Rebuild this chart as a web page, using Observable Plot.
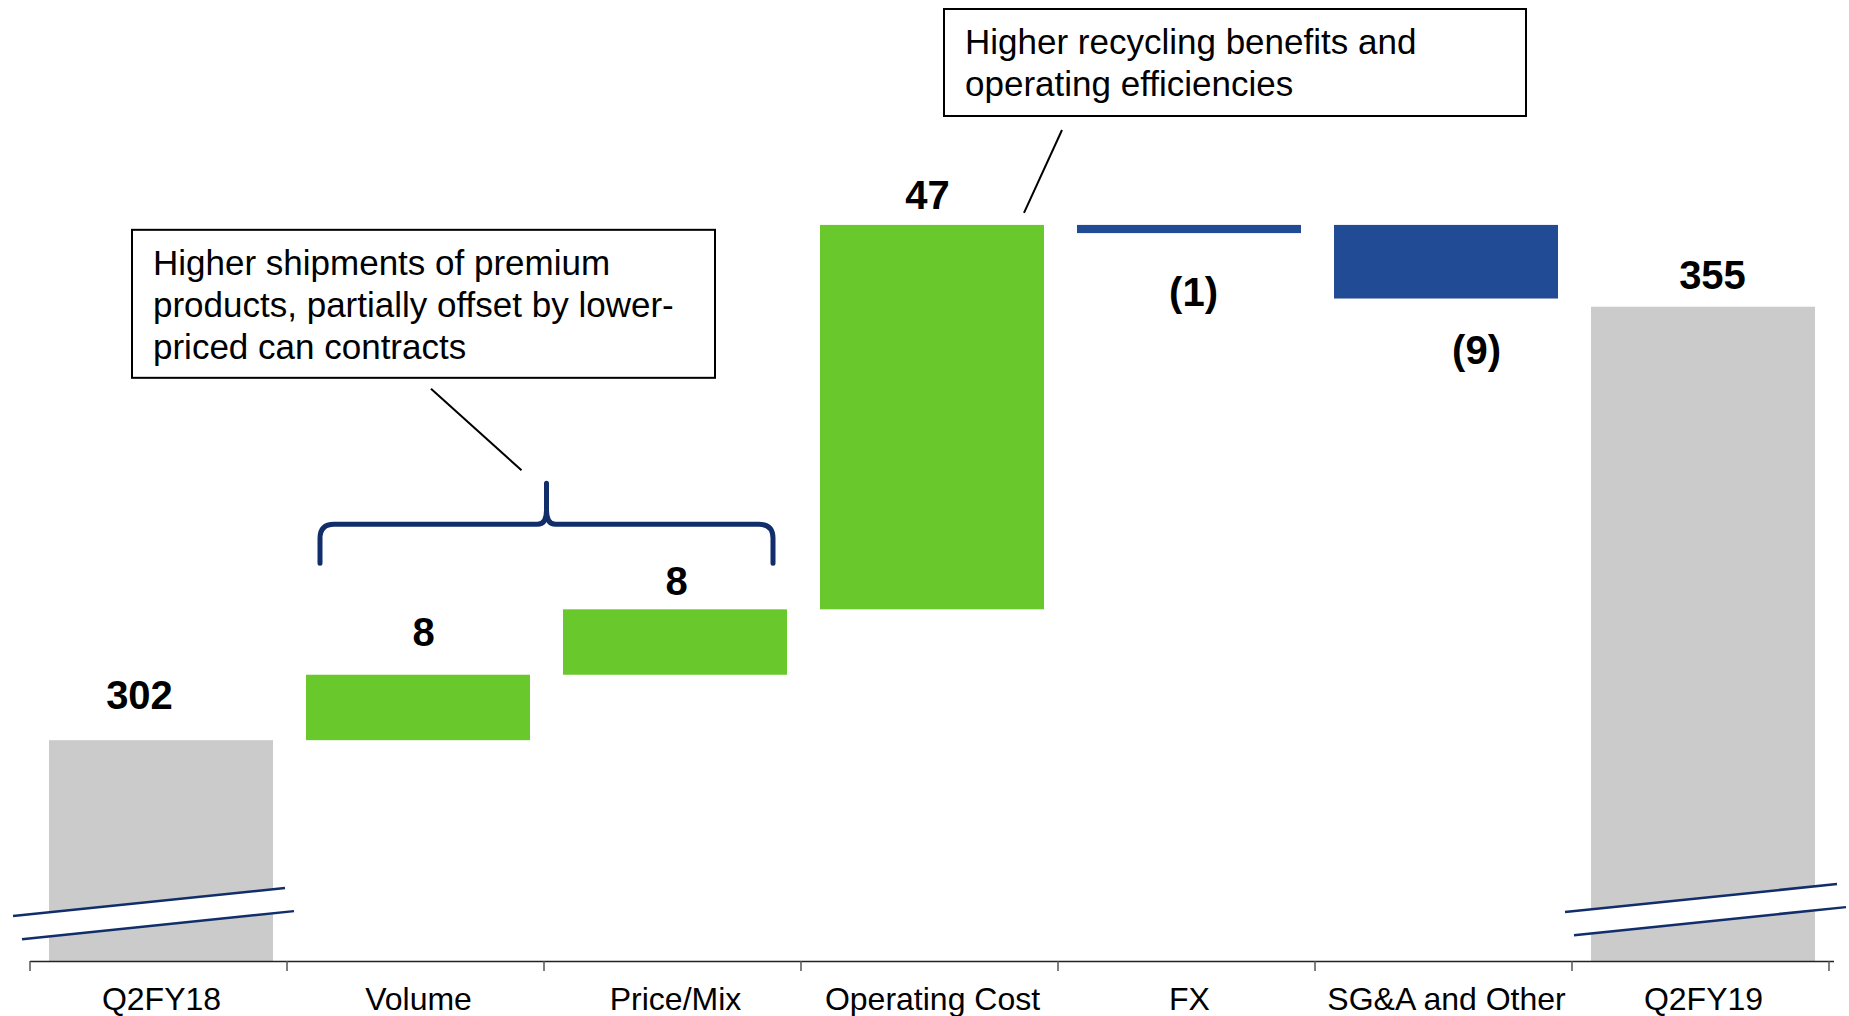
<!DOCTYPE html>
<html><head><meta charset="utf-8">
<script src="https://cdn.jsdelivr.net/npm/d3@7"></script>
<script src="https://cdn.jsdelivr.net/npm/@observablehq/plot@0.6"></script>
<style>
  html,body{margin:0;padding:0;background:#fff;}
  #chart svg{display:block;}
</style>
</head><body><div id="chart"></div>
<script>
// ---------- data ----------
const categories = ["Q2FY18", "Volume", "Price/Mix", "Operating Cost", "FX", "SG&A and Other", "Q2FY19"];
const changes    = [302, 8, 8, 47, -1, -9, 355];
const kinds      = ["total", "delta", "delta", "delta", "delta", "delta", "total"];
const valueLabels = ["302", "8", "8", "47", "(1)", "(9)", "355"];
const yDomain = [275, 392.5];            // broken axis: bottom of the plot is 275
const breakLevel = 281;                  // where the axis-break marks sit
const braceLevel = 328.4;                // level of the curly brace over Volume + Price/Mix
const note1Lines = ["Higher shipments of premium", "products, partially offset by lower-", "priced can contracts"];
const note2Lines = ["Higher recycling benefits and", "operating efficiencies"];

// ---------- styles ----------
const GREY = "#cbcbcb", GREEN = "#69c92c", BLUE = "#224b95", NAVY = "#112e6b";
const FONT = "'Liberation Sans', Arial, Helvetica, sans-serif";
// per-label pixel nudges [dx, dy] (label placement as on the slide)
const labelNudges = [[-22, -44], [5, -42], [1, -28], [-5, -29], [4, 60], [30, 52], [9, -31]];
const breakNudges = {"Q2FY18": [-1, 1], "Q2FY19": [9, -3]};

// ---------- waterfall rows ----------
// As on the slide, the negative steps hang from the peak reached by the positive steps.
let running = 0, peak = 0;
const rows = categories.map((c, i) => {
  let y1, y2;
  if (kinds[i] === "total") { y1 = 0; y2 = changes[i]; running = changes[i]; peak = running; }
  else if (changes[i] >= 0) { y1 = running; y2 = running + changes[i]; running = y2; peak = Math.max(peak, running); }
  else { y1 = peak; y2 = peak + changes[i]; running += changes[i]; }
  const fill = kinds[i] === "total" ? GREY : (changes[i] >= 0 ? GREEN : BLUE);
  return {category: c, y1, y2, top: Math.max(y1, y2), bottom: Math.min(y1, y2),
          value: changes[i], label: valueLabels[i], kind: kinds[i], fill};
});

// ---------- custom decorations (breaks, ticks, brace, notes) ----------
function decorations(index, scales) {
  const sx = scales.x, sy = scales.y;
  const bw = typeof sx.bandwidth === "function" ? sx.bandwidth() : sx.bandwidth;
  const step = typeof sx.step === "function" ? sx.step() : bw / (1 - 0.127);
  const r0 = sx.range()[0];
  const cx = c => sx(c) + bw / 2;
  const g = d3.create("svg:g");

  // tick marks at band edges
  const yAxis = sy(yDomain[0]);
  for (let i = 0; i <= categories.length; i++) {
    const x = r0 + i * step;
    g.append("line").attr("x1", x).attr("x2", x).attr("y1", yAxis).attr("y2", yAxis + 10)
      .attr("stroke", "#555").attr("stroke-width", 1.5);
  }

  // axis-break marks on the total bars
  const slope = -0.103, half = 12;
  for (const r of rows.filter(d => d.kind === "total")) {
    const [nx, ny] = breakNudges[r.category] || [0, 0];
    const x0 = cx(r.category) + nx, y0 = sy(breakLevel) + ny;
    const l1 = [[-147, -half], [125, -half]], l2 = [[-138, half], [134, half]];
    const P = ([dx, dy]) => [x0 + dx, y0 + dy + slope * dx];
    const a = P(l1[0]), b = P(l1[1]), c = P(l2[1]), d = P(l2[0]);
    g.append("polygon").attr("points", [a, b, c, d].map(p => p.join(",")).join(" ")).attr("fill", "#fff");
    g.append("line").attr("x1", a[0]).attr("y1", a[1]).attr("x2", b[0]).attr("y2", b[1])
      .attr("stroke", NAVY).attr("stroke-width", 2.5);
    g.append("line").attr("x1", d[0]).attr("y1", d[1]).attr("x2", c[0]).attr("y2", c[1])
      .attr("stroke", NAVY).attr("stroke-width", 2.5);
  }

  // curly brace over Volume + Price/Mix
  const L = cx("Volume") - 98, R = cx("Price/Mix") + 98, M = (L + R) / 2, yH = sy(braceLevel);
  g.append("path")
    .attr("d", `M${L},${yH + 39} L${L},${yH + 14} Q${L},${yH} ${L + 14},${yH} L${M - 9},${yH} Q${M},${yH} ${M},${yH - 14} L${M},${yH - 41}
                M${M},${yH - 14} Q${M},${yH} ${M + 9},${yH} L${R - 14},${yH} Q${R},${yH} ${R},${yH + 14} L${R},${yH + 39}`)
    .attr("fill", "none").attr("stroke", NAVY).attr("stroke-width", 5)
    .attr("stroke-linecap", "round").attr("stroke-linejoin", "round");

  // note boxes
  function note(lines, anchorCat, topValue, dx, w, h) {
    const left = cx(anchorCat) + dx, top = sy(topValue);
    g.append("rect").attr("x", left).attr("y", top).attr("width", w).attr("height", h)
      .attr("fill", "#fff").attr("stroke", "#000").attr("stroke-width", 2);
    const t = g.append("text").attr("font-family", FONT).attr("font-size", 35)
      .attr("text-anchor", "start").attr("fill", "#000");
    lines.forEach((s, i) => t.append("tspan").attr("x", left + 21).attr("y", top + 45 + i * 42.3).text(s));
    return {left, top, w, h, bottom: top + h};
  }
  const n1 = note(note1Lines, "Volume", 364.4, -286, 583, 148);
  const n2 = note(note2Lines, "FX", 391.4, -245, 582, 107);

  // leader lines
  g.append("line").attr("x1", n1.left + 299).attr("y1", n1.bottom + 11)
    .attr("x2", M - 25).attr("y2", yH - 54).attr("stroke", "#000").attr("stroke-width", 2);
  const opc = rows.find(d => d.category === "Operating Cost");
  g.append("line").attr("x1", n2.left + 118).attr("y1", n2.bottom + 14)
    .attr("x2", sx("Operating Cost") + bw - 20).attr("y2", sy(opc.top) - 12)
    .attr("stroke", "#000").attr("stroke-width", 2);
  return g.node();
}

// ---------- plot ----------
const labelMarks = rows.map((r, i) => Plot.text([r], {
  x: "category",
  y: r.value >= 0 || r.kind === "total" ? "top" : "bottom",
  text: "label",
  dx: labelNudges[i][0], dy: labelNudges[i][1],
  lineAnchor: "middle",
  fontSize: 40, fontWeight: "bold", fill: "#000"
}));

const chart = Plot.plot({
  width: 1849, height: 1016,
  marginLeft: 30, marginRight: 15, marginTop: 0, marginBottom: 55,
  style: {fontFamily: FONT, background: "#fff", color: "#000", fontSize: "32px", overflow: "visible"},
  x: {domain: categories, paddingInner: 0.127, paddingOuter: 0.0635, label: null},
  y: {domain: yDomain, clamp: true, axis: null},
  color: {type: "identity"},
  marks: [
    Plot.barY(rows, {x: "category", y1: "y1", y2: "y2", fill: "fill"}),
    Plot.ruleY([yDomain[0]], {stroke: "#222", strokeWidth: 1.5}),
    Plot.axisX({tickSize: 0, tickPadding: 26, fontSize: 32, fill: "#000"}),
    ...labelMarks,
    decorations
  ]
});
document.getElementById("chart").appendChild(chart);
</script>
</body></html>
